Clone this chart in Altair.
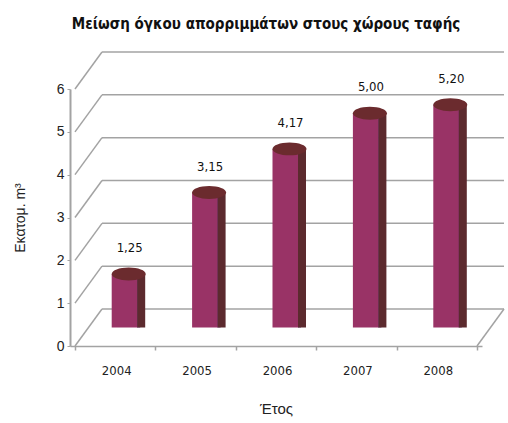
import json
import altair as alt
import pandas as pd

# ---- data ----
years = ["2004", "2005", "2006", "2007", "2008"]
values = [1.25, 3.15, 4.17, 5.00, 5.20]
y_ticks = [0, 1, 2, 3, 4, 5, 6]
title_text = "Μείωση όγκου απορριμμάτων στους χώρους ταφής"
y_title = "Εκατομ. m³"
x_title = "Έτος"

n = len(years)
df = pd.DataFrame({
    "year": years,
    "value": values,
    "pos": [i + 0.5 for i in range(n)],
    "label": [f"{v:.2f}".replace(".", ",") for v in values],
})
grid = pd.DataFrame({"v": y_ticks})

# ---- style ----
DX, DY = 27, -37          # depth offset of back wall
HX, HY = 13.5, -18.5      # bars stand at mid depth
GRID = "#a3a3a3"
COND = "DejaVu Sans Condensed"

xs = alt.Scale(domain=[0, n], nice=False, zero=False)
ys = alt.Scale(domain=[0, 6], nice=False)

x_axis = alt.Axis(
    values=list(range(n + 1)),
    labelExpr=f"datum.value < {n} ? {json.dumps(years)}[datum.value] : ''",
    labelOffset=41.2, labelFlush=False, labelOverlap=False,
    labelFont=COND, labelFontSize=13, labelColor="#222",
    labelPadding=14, tickSize=4, tickColor=GRID, domainColor=GRID,
    domainWidth=1.5, tickWidth=1.5, grid=False,
    title=x_title, titleFont="Liberation Sans", titleFontSize=15,
    titleFontWeight="normal", titleColor="#222", titlePadding=24,
)
y_axis = alt.Axis(
    values=y_ticks, grid=False, tickSize=3, tickColor=GRID, domainColor=GRID,
    domainWidth=2, labelFont="Liberation Sans", labelFontSize=14,
    labelColor="#222", labelPadding=3,
    title=y_title, titleFont="Liberation Sans", titleFontSize=14,
    titleFontWeight="normal", titleColor="#222", titlePadding=29,
)

base_grid = alt.Chart(grid)

back = base_grid.mark_rule(
    color=GRID, strokeWidth=1.5, xOffset=DX, x2Offset=DX, yOffset=DY
).encode(
    x=alt.datum(0, scale=xs), x2=alt.datum(n), y=alt.Y("v:Q", scale=ys)
)
diag = base_grid.mark_rule(
    color=GRID, strokeWidth=1.5, x2Offset=DX, y2Offset=DY
).encode(
    x=alt.datum(0, scale=xs), x2=alt.datum(0),
    y=alt.Y("v:Q", scale=ys), y2="v:Q"
)
diag_r = base_grid.transform_filter("datum.v == 0").mark_rule(
    color=GRID, strokeWidth=1.5, x2Offset=DX, y2Offset=DY
).encode(
    x=alt.datum(n, scale=xs), x2=alt.datum(n),
    y=alt.Y("v:Q", scale=ys), y2="v:Q"
)

bars = alt.Chart(df)
front = bars.mark_bar(
    size=26, color="#993366", xOffset=HX - 4, yOffset=HY, y2Offset=HY
).encode(
    x=alt.X("pos:Q", scale=xs, axis=x_axis),
    y=alt.Y("value:Q", scale=ys, axis=y_axis),
    y2=alt.datum(0),
)
side = bars.mark_bar(
    size=8, color="#5c2a2e", xOffset=HX + 12.5, yOffset=HY, y2Offset=HY
).encode(x="pos:Q", y="value:Q", y2=alt.datum(0))
stripe = bars.mark_bar(
    size=3, color="#6a3a86", xOffset=HX + 10, yOffset=HY, y2Offset=HY
).encode(x="pos:Q", y="value:Q", y2=alt.datum(0))

ELLIPSE = "M -1 0 A 1 0.38 0 1 1 1 0 A 1 0.38 0 1 1 -1 0 Z"
top = bars.mark_point(
    shape=ELLIPSE, filled=True, size=34 * 34, color="#6b2b2e",
    opacity=1, xOffset=HX, yOffset=HY
).encode(x="pos:Q", y="value:Q")

labels = bars.mark_text(
    font=COND, fontSize=13, color="#111", xOffset=HX + 1, yOffset=HY - 26
).encode(x="pos:Q", y="value:Q", text="label:N")

chart = alt.layer(back, diag, diag_r, front, stripe, side, top, labels).properties(
    width=412, height=257,
    padding={"left": 70, "top": 89, "right": 26, "bottom": 77},
    autosize=alt.AutoSizeParams(type="none"),
    title=alt.Title(
        title_text, font=COND, fontSize=15, fontWeight="bold", color="#111",
        anchor="middle", offset=19, dx=-10,
    ),
    background="white",
).configure_view(stroke=None)

chart.save("out.html", embed_options={"renderer": "svg", "actions": False})
